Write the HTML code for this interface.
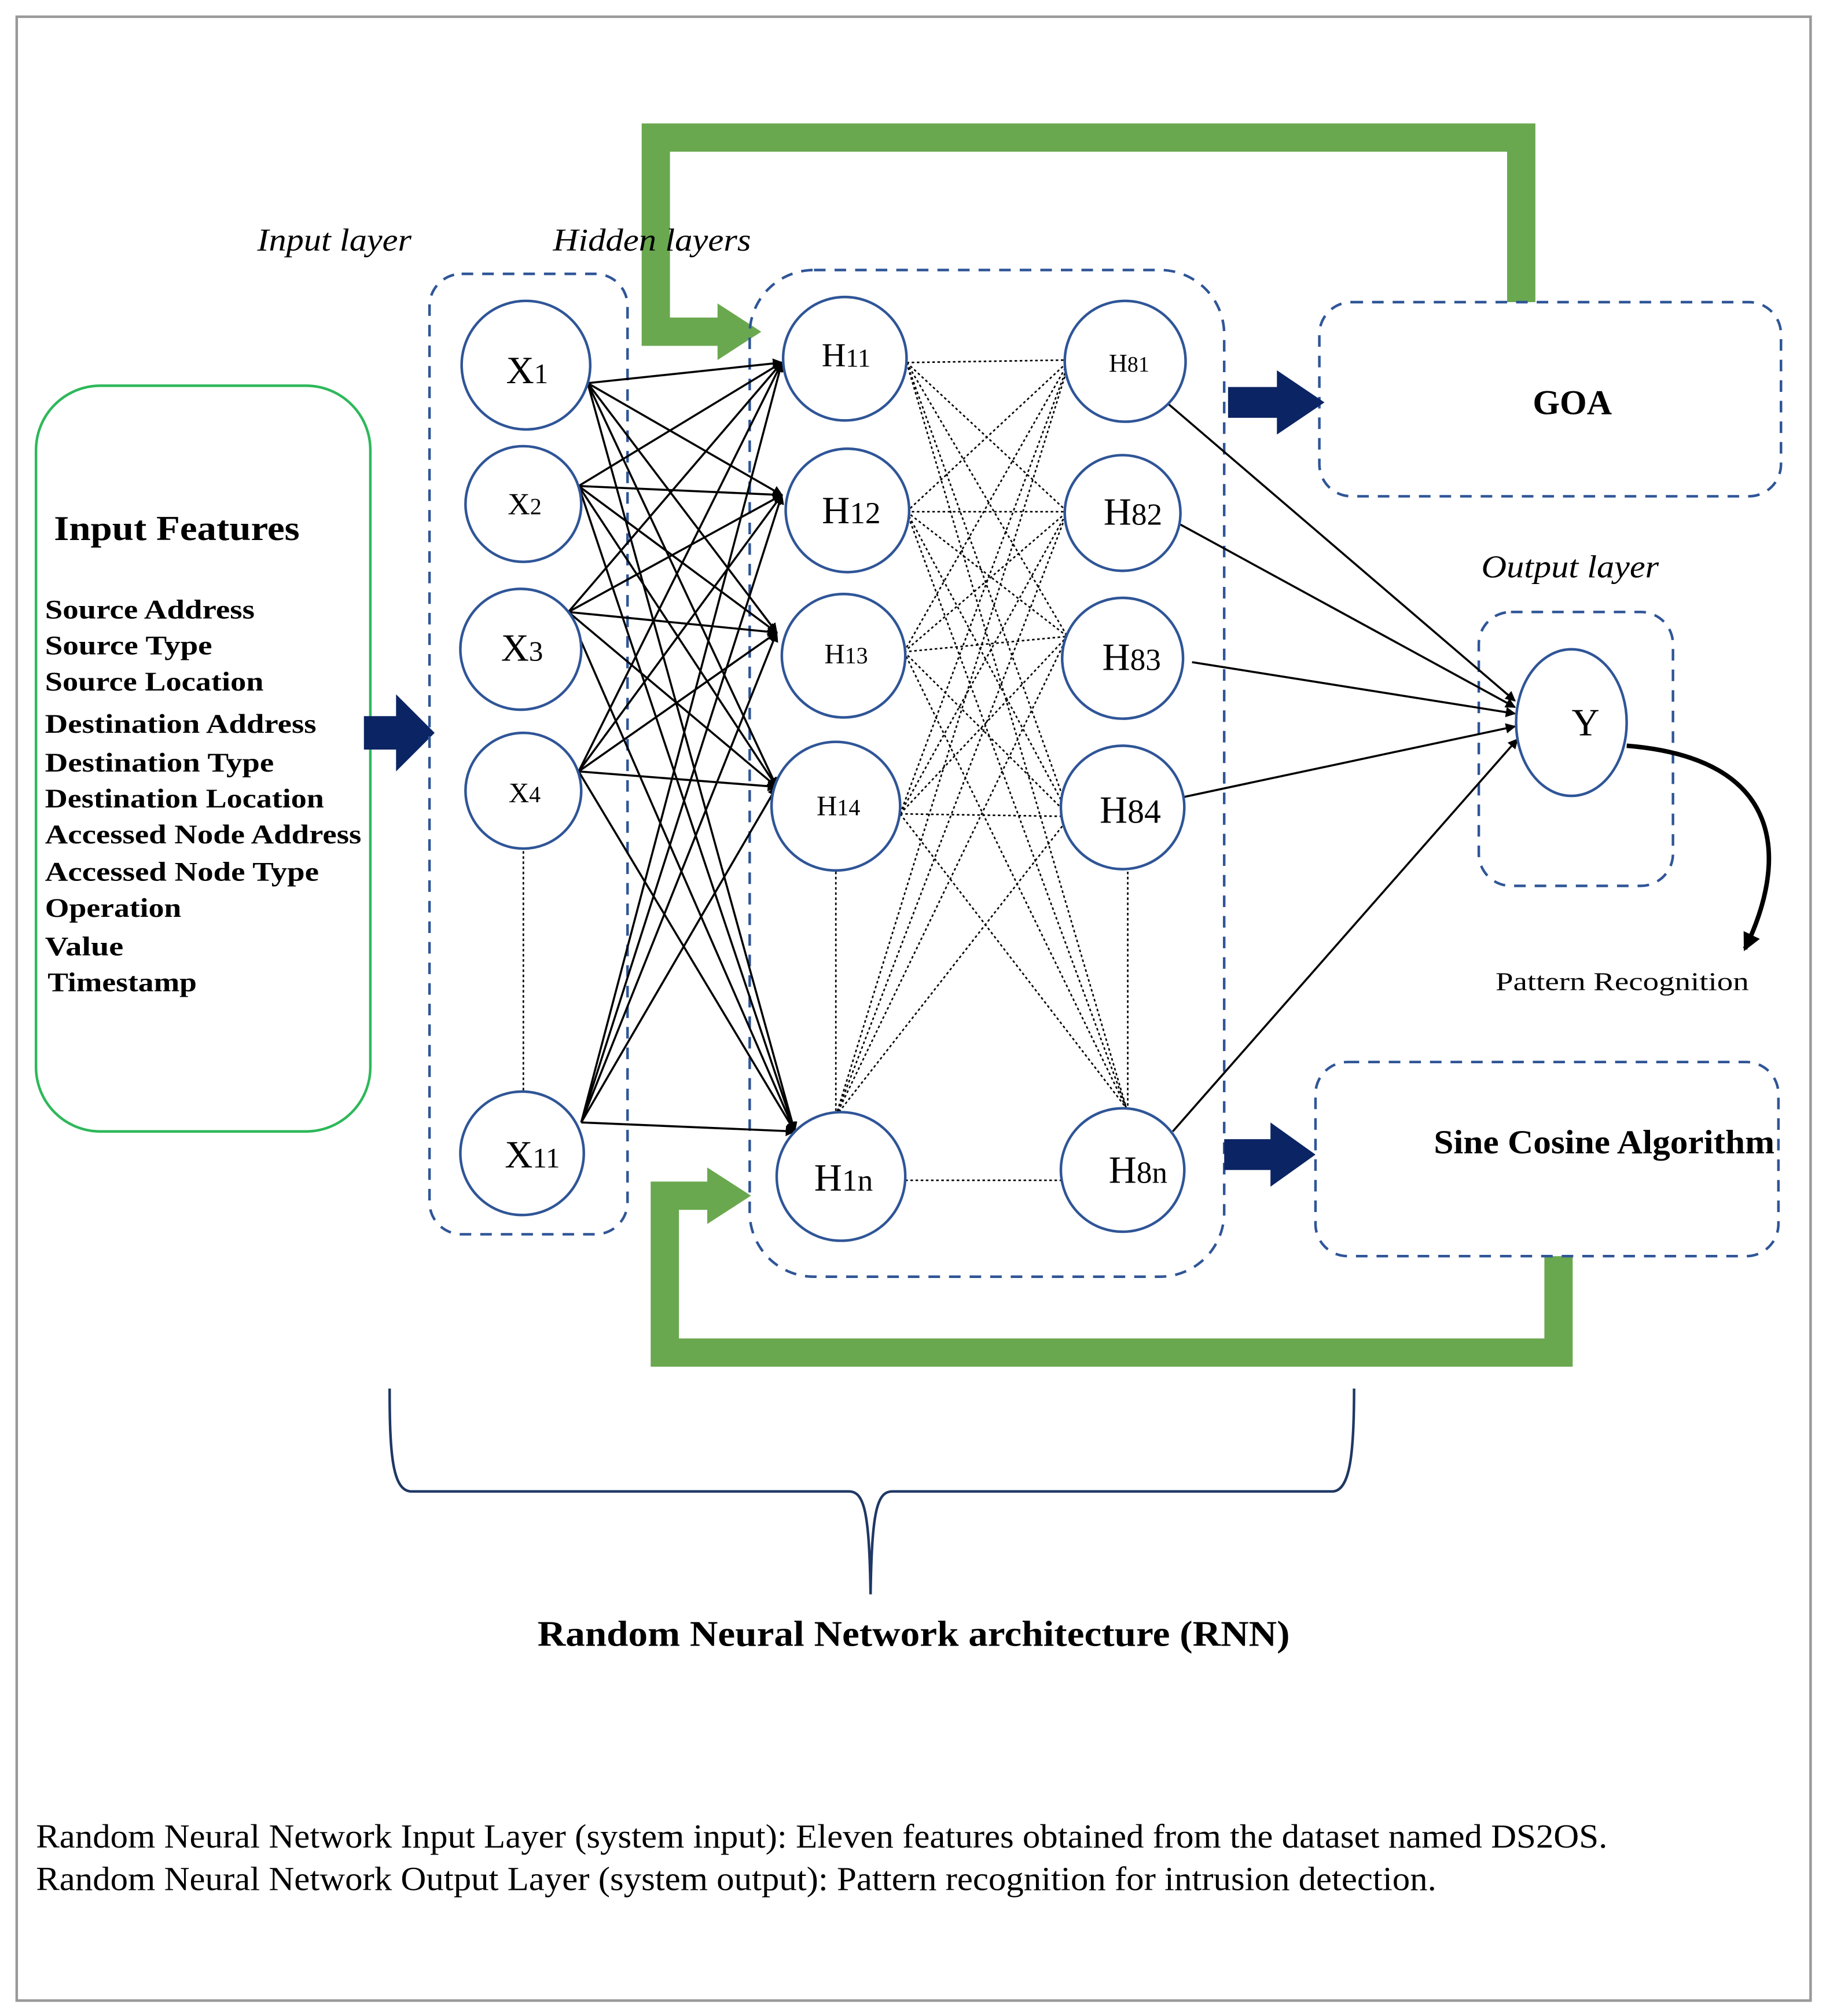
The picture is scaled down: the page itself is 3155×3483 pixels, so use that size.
<!DOCTYPE html>
<html><head><meta charset="utf-8"><style>
html,body{margin:0;padding:0;background:#fff}
svg{display:block}
text{font-family:"Liberation Serif",serif}
</style></head><body>
<svg width="3155" height="3483" viewBox="0 0 1420 1568" preserveAspectRatio="none" xmlns="http://www.w3.org/2000/svg">
<defs>
<marker id="ah" markerWidth="8" markerHeight="8" refX="7" refY="4" orient="auto" markerUnits="userSpaceOnUse"><path d="M0,0 L8,4 L0,8 Z" fill="#000"/></marker>
<marker id="ah2" markerWidth="14" markerHeight="14" refX="12" refY="7" orient="auto" markerUnits="userSpaceOnUse"><path d="M0,0 L14,7 L0,14 Z" fill="#000"/></marker>
</defs>
<rect x="0" y="0" width="1420" height="1568" fill="#fff"/>
<rect x="13" y="13" width="1395" height="1543" fill="none" stroke="#999" stroke-width="2"/>

<!-- green feedback -->
<path d="M1183,235 L1183,107 L510,107 L510,258 L560,258" fill="none" stroke="#6aa84f" stroke-width="22"/>
<polygon points="558,236 592,258 558,280" fill="#6aa84f"/>
<path d="M1212,977 L1212,1052 L517,1052 L517,930 L555,930" fill="none" stroke="#6aa84f" stroke-width="22"/>
<polygon points="550,908 584,930 550,952" fill="#6aa84f"/>

<!-- Input features box -->
<rect x="28" y="300" width="260" height="580" rx="50" fill="none" stroke="#2db85a" stroke-width="2"/>
<text x="42" y="420" font-size="27" font-weight="bold" textLength="191" lengthAdjust="spacingAndGlyphs">Input Features</text>
<g font-size="21" font-weight="bold">
<text x="35" y="481" textLength="163" lengthAdjust="spacingAndGlyphs">Source Address</text>
<text x="35" y="509" textLength="130" lengthAdjust="spacingAndGlyphs">Source Type</text>
<text x="35" y="537" textLength="170" lengthAdjust="spacingAndGlyphs">Source Location</text>
<text x="35" y="570" textLength="211" lengthAdjust="spacingAndGlyphs">Destination Address</text>
<text x="35" y="600" textLength="178" lengthAdjust="spacingAndGlyphs">Destination Type</text>
<text x="35" y="628" textLength="217" lengthAdjust="spacingAndGlyphs">Destination Location</text>
<text x="35" y="656" textLength="246" lengthAdjust="spacingAndGlyphs">Accessed Node Address</text>
<text x="35" y="685" textLength="213" lengthAdjust="spacingAndGlyphs">Accessed Node Type</text>
<text x="35" y="713" textLength="106" lengthAdjust="spacingAndGlyphs">Operation</text>
<text x="35" y="743" textLength="61" lengthAdjust="spacingAndGlyphs">Value</text>
<text x="37" y="771" textLength="116" lengthAdjust="spacingAndGlyphs">Timestamp</text>
</g>
<polygon points="283,557 308,557 308,540 338,570 308,600 308,583 283,583" fill="#0b2463"/>

<!-- dashed boxes -->
<g fill="none" stroke="#2f5597" stroke-width="2" stroke-dasharray="9,7">
<rect x="334" y="213" width="154" height="747" rx="25"/>
<rect x="583" y="210" width="369" height="783" rx="50"/>
<rect x="1026" y="235" width="359" height="151" rx="25"/>
<rect x="1150" y="476" width="151" height="213" rx="25"/>
<rect x="1023" y="826" width="360" height="151" rx="25"/>
</g>

<text x="200" y="195" font-size="25" font-style="italic" textLength="120" lengthAdjust="spacingAndGlyphs">Input layer</text>
<text x="430" y="195" font-size="25" font-style="italic" textLength="154" lengthAdjust="spacingAndGlyphs">Hidden layers</text>
<text x="1152" y="449" font-size="25" font-style="italic" textLength="138" lengthAdjust="spacingAndGlyphs">Output layer</text>
<text x="1163" y="770" font-size="20" textLength="197" lengthAdjust="spacingAndGlyphs">Pattern Recognition</text>
<text x="1192" y="322" font-size="27" font-weight="bold">GOA</text>
<text x="1115" y="897" font-size="26" font-weight="bold" textLength="265" lengthAdjust="spacingAndGlyphs">Sine Cosine Algorithm</text>

<polygon points="955,301 993,301 993,288 1030,313 993,338 993,325 955,325" fill="#0b2463"/>
<polygon points="952,886 988,886 988,873 1023,898 988,923 988,910 952,910" fill="#0b2463"/>

<!-- X to H1 connections -->
<g stroke="#000" stroke-width="1.6" marker-end="url(#ah)">
<line x1="457" y1="298" x2="608" y2="282"/><line x1="457" y1="298" x2="608" y2="385"/><line x1="457" y1="298" x2="604" y2="492"/><line x1="457" y1="298" x2="604" y2="612"/><line x1="457" y1="298" x2="618" y2="880"/>
<line x1="450" y1="378" x2="608" y2="282"/><line x1="450" y1="378" x2="608" y2="385"/><line x1="450" y1="378" x2="604" y2="492"/><line x1="450" y1="378" x2="604" y2="612"/><line x1="450" y1="378" x2="618" y2="880"/>
<line x1="442" y1="476" x2="608" y2="282"/><line x1="442" y1="476" x2="608" y2="385"/><line x1="442" y1="476" x2="604" y2="492"/><line x1="442" y1="476" x2="604" y2="612"/><line x1="442" y1="476" x2="618" y2="880"/>
<line x1="450" y1="600" x2="608" y2="282"/><line x1="450" y1="600" x2="608" y2="385"/><line x1="450" y1="600" x2="604" y2="492"/><line x1="450" y1="600" x2="604" y2="612"/><line x1="450" y1="600" x2="618" y2="880"/>
<line x1="452" y1="873" x2="608" y2="282"/><line x1="452" y1="873" x2="608" y2="385"/><line x1="452" y1="873" x2="604" y2="492"/><line x1="452" y1="873" x2="604" y2="612"/><line x1="452" y1="873" x2="618" y2="880"/>
</g>

<!-- H1 to H8 dotted -->
<g stroke="#000" stroke-width="1.2" stroke-dasharray="2,2">
<line x1="705" y1="282" x2="832" y2="280"/><line x1="705" y1="282" x2="830" y2="398"/><line x1="705" y1="282" x2="830" y2="495"/><line x1="705" y1="282" x2="832" y2="635"/><line x1="705" y1="282" x2="876" y2="862"/>
<line x1="705" y1="398" x2="832" y2="280"/><line x1="705" y1="398" x2="830" y2="398"/><line x1="705" y1="398" x2="830" y2="495"/><line x1="705" y1="398" x2="832" y2="635"/><line x1="705" y1="398" x2="876" y2="862"/>
<line x1="703" y1="507" x2="832" y2="280"/><line x1="703" y1="507" x2="830" y2="398"/><line x1="703" y1="507" x2="830" y2="495"/><line x1="703" y1="507" x2="832" y2="635"/><line x1="703" y1="507" x2="876" y2="862"/>
<line x1="700" y1="633" x2="832" y2="280"/><line x1="700" y1="633" x2="830" y2="398"/><line x1="700" y1="633" x2="830" y2="495"/><line x1="700" y1="633" x2="832" y2="635"/><line x1="700" y1="633" x2="876" y2="862"/>
<line x1="650" y1="868" x2="832" y2="280"/><line x1="650" y1="868" x2="830" y2="398"/><line x1="650" y1="868" x2="830" y2="495"/><line x1="650" y1="868" x2="832" y2="635"/>
<line x1="704" y1="918" x2="826" y2="918"/>
<line x1="407" y1="662" x2="407" y2="848"/>
<line x1="650" y1="678" x2="650" y2="866"/>
<line x1="877" y1="678" x2="877" y2="862"/>
</g>

<!-- H8 to Y -->
<g stroke="#000" stroke-width="1.6" marker-end="url(#ah)">
<line x1="906" y1="312" x2="1178" y2="545"/>
<line x1="918" y1="408" x2="1178" y2="550"/>
<line x1="927" y1="515" x2="1178" y2="555"/>
<line x1="920" y1="620" x2="1178" y2="565"/>
<line x1="912" y1="880" x2="1180" y2="575"/>
</g>
<path d="M1265,580 C1390,590 1390,670 1357,738" fill="none" stroke="#000" stroke-width="3.5" marker-end="url(#ah2)"/>

<!-- nodes -->
<g fill="#fff" stroke="#2f5597" stroke-width="2">
<circle cx="409" cy="284" r="50"/><circle cx="407" cy="392" r="45"/><circle cx="405" cy="505" r="47"/><circle cx="407" cy="615" r="45"/><circle cx="406" cy="897" r="48"/>
<circle cx="657" cy="279" r="48"/><circle cx="659" cy="397" r="48"/><circle cx="656" cy="510" r="48"/><circle cx="650" cy="627" r="50"/><circle cx="654" cy="915" r="50"/>
<circle cx="875" cy="281" r="47"/><circle cx="873" cy="399" r="45"/><circle cx="873" cy="512" r="47"/><circle cx="873" cy="628" r="48"/><circle cx="873" cy="910" r="48"/>
<ellipse cx="1222" cy="562" rx="43" ry="57"/>
</g>
<g font-size="30" text-anchor="middle">
<text x="410" y="298">X<tspan font-size="22">1</tspan></text>
<text x="408" y="400" font-size="24">X<tspan font-size="18">2</tspan></text>
<text x="406" y="514">X<tspan font-size="22">3</tspan></text>
<text x="408" y="624" font-size="22">X<tspan font-size="18">4</tspan></text>
<text x="414" y="908">X<tspan font-size="22">11</tspan></text>
<text x="658" y="285" font-size="26">H<tspan font-size="20">11</tspan></text>
<text x="662" y="407">H<tspan font-size="24">12</tspan></text>
<text x="658" y="516" font-size="22">H<tspan font-size="18">13</tspan></text>
<text x="652" y="634" font-size="22">H<tspan font-size="18">14</tspan></text>
<text x="656" y="926">H<tspan font-size="24">1n</tspan></text>
<text x="878" y="289" font-size="20">H<tspan font-size="17">81</tspan></text>
<text x="881" y="408">H<tspan font-size="24">82</tspan></text>
<text x="880" y="521">H<tspan font-size="24">83</tspan></text>
<text x="879" y="640">H<tspan font-size="26">84</tspan></text>
<text x="885" y="920">H<tspan font-size="24">8n</tspan></text>
<text x="1233" y="572">Y</text>
</g>

<!-- brace -->
<path d="M303,1080 C303,1130 305,1160 320,1160 L660,1160 C672,1160 676,1175 677,1240 C678,1175 682,1160 694,1160 L1036,1160 C1050,1160 1053,1130 1053,1080" fill="none" stroke="#1f3864" stroke-width="2"/>
<text x="418" y="1280" font-size="28" font-weight="bold" textLength="585" lengthAdjust="spacingAndGlyphs">Random Neural Network architecture (RNN)</text>

<text x="28" y="1437" font-size="26" textLength="1222" lengthAdjust="spacingAndGlyphs">Random Neural Network Input Layer (system input): Eleven features obtained from the dataset named DS2OS.</text>
<text x="28" y="1470" font-size="26" textLength="1089" lengthAdjust="spacingAndGlyphs">Random Neural Network Output Layer (system output): Pattern recognition for intrusion detection.</text>
</svg>
</body></html>
